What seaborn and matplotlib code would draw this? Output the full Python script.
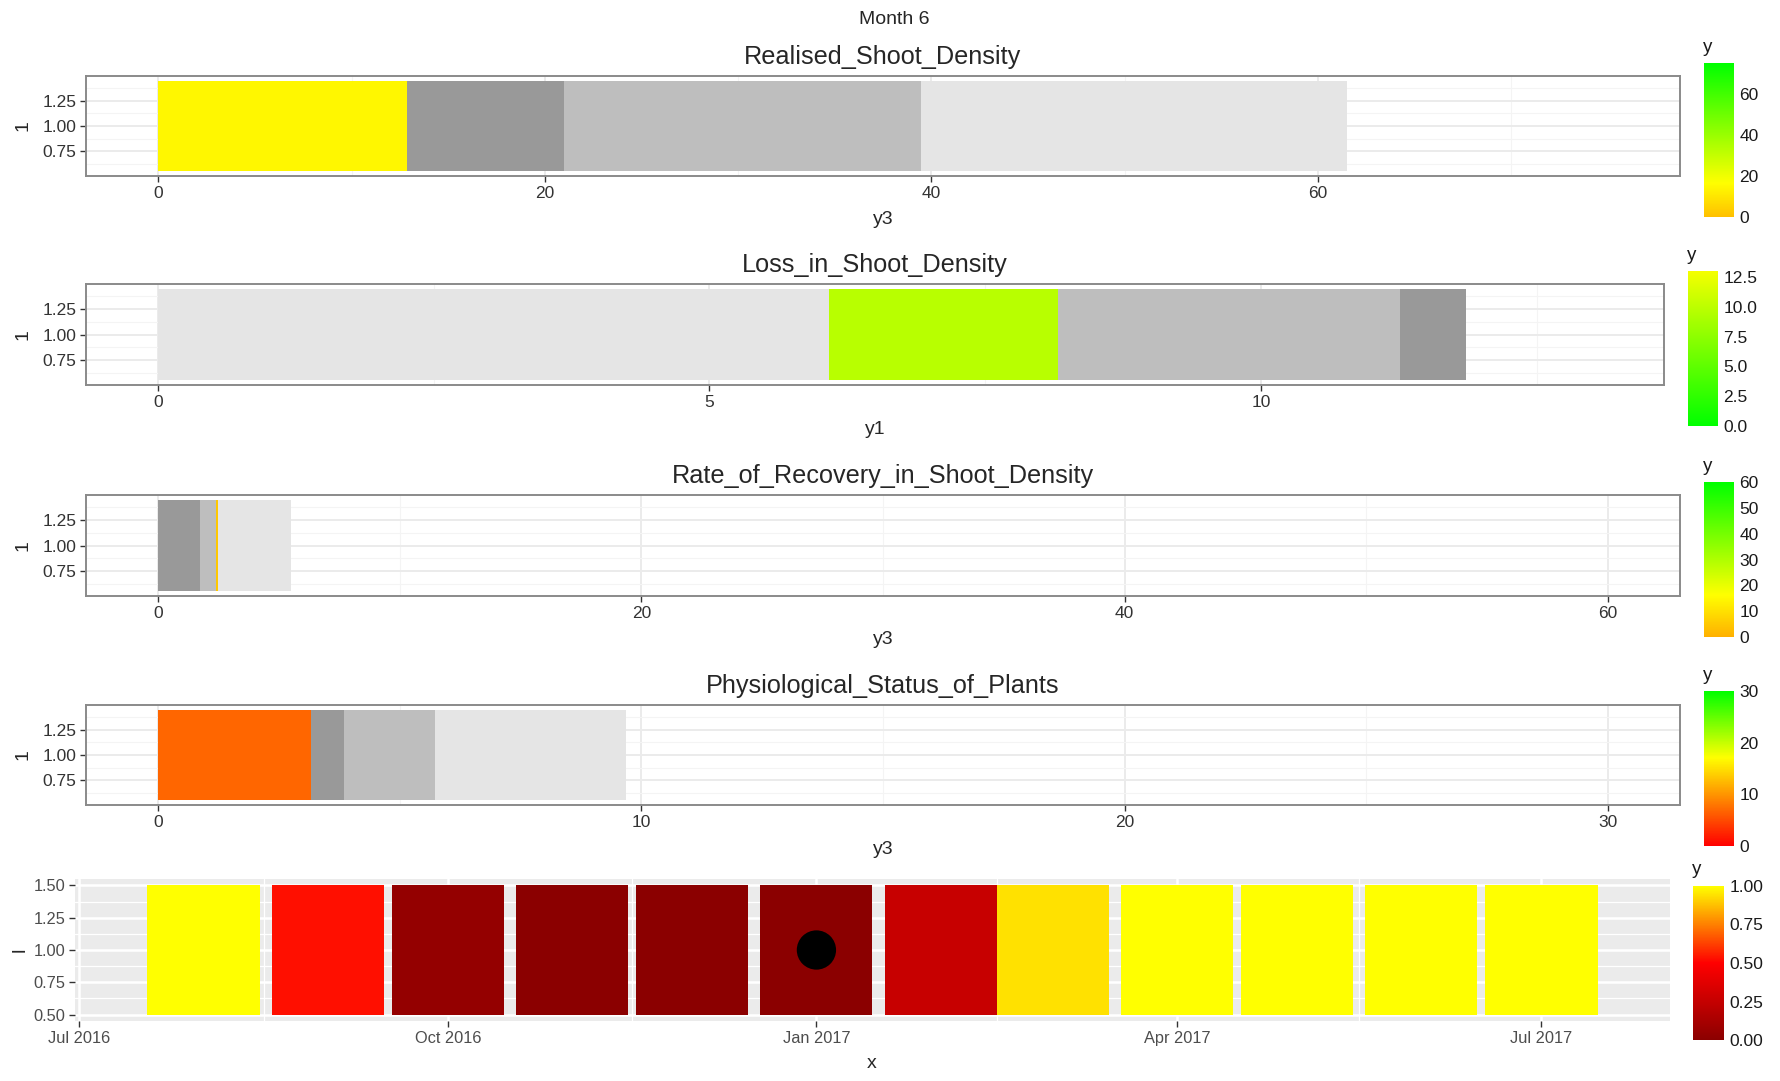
import numpy as np
import pandas as pd
import seaborn as sns
import matplotlib as mpl
import matplotlib.pyplot as plt
import matplotlib.dates as mdates
from matplotlib.colors import LinearSegmentedColormap, Normalize
from matplotlib.ticker import FixedLocator

sns.set_theme(style="white")
plt.rcParams['font.family'] = ['Liberation Sans', 'DejaVu Sans']

# ---- data ----
fig_title = "Month 6"
titles = ["Realised_Shoot_Density", "Loss_in_Shoot_Density",
          "Rate_of_Recovery_in_Shoot_Density", "Physiological_Status_of_Plants"]
xlabels = ["y3", "y1", "y3", "y3"]

# stacked segment lengths, in drawing order
realised_len = [12.85, 8.15, 18.47, 22.03]
realised_kind = ["value", "dark", "mid", "light"]
loss_len = [6.08, 2.08, 3.10, 0.60]
loss_kind = ["light", "value", "mid", "dark"]
recovery_len = [1.71, 0.69, 0.07, 3.02]
recovery_kind = ["dark", "mid", "value", "light"]
physio_len = [3.15, 0.70, 1.88, 3.94]
physio_kind = ["value", "dark", "mid", "light"]

# fill value of the coloured segment and scale maximum of each panel
fill_values = [14.4, 9.7, 5.0, 6.8]
scale_max = [75, 13, 60, 30]

x_ticks = [[0, 20, 40, 60], [0, 5, 10], [0, 20, 40, 60], [0, 10, 20, 30]]
cb_ticks = [[0, 20, 40, 60], [0, 2.5, 5, 7.5, 10, 12.5],
            [0, 10, 20, 30, 40, 50, 60], [0, 10, 20, 30]]
cb_labels = [["0", "20", "40", "60"], ["0.0", "2.5", "5.0", "7.5", "10.0", "12.5"],
             ["0", "10", "20", "30", "40", "50", "60"], ["0", "10", "20", "30"]]

# monthly status tiles
months = pd.date_range("2016-08-01", periods=12, freq="MS")
status = [1.0, 0.53, 0.04, 0.0, 0.0, 0.0, 0.26, 0.94, 1.0, 1.0, 1.0, 1.0]
current_month = pd.Timestamp("2017-01-01")
date_ticks = pd.to_datetime(["2016-07-01", "2016-10-01", "2017-01-01", "2017-04-01", "2017-07-01"])

grays = {"dark": "#999999", "mid": "#BEBEBE", "light": "#E5E5E5"}

cmaps = [
    LinearSegmentedColormap.from_list("c1", [(0, "#FFC000"), (0.22, "#FFFF00"), (1, "#00FF00")]),
    LinearSegmentedColormap.from_list("c2", [(0, "#00FF00"), (1, "#F5FF00")]),
    LinearSegmentedColormap.from_list("c3", [(0, "#FFB000"), (0.27, "#FFFF00"), (1, "#00FF00")]),
    LinearSegmentedColormap.from_list("c4", [(0, "#FF0000"), (0.57, "#FFFF00"), (1, "#00FF00")]),
]
cmap_status = LinearSegmentedColormap.from_list("c5", [(0, "#8B0000"), (0.5, "#FF0000"), (1, "#FFFF00")])

W, H = 1781, 1081
fig = plt.figure(figsize=(W / 100, H / 100), dpi=100)


def box(x0, y0, x1, y1):
    return fig.add_axes([x0 / W, 1 - y1 / H, (x1 - x0) / W, (y1 - y0) / H])


def add_colorbar(rect, cmap, vmax, ticks, labels):
    cax = box(*rect)
    cb = fig.colorbar(mpl.cm.ScalarMappable(norm=Normalize(0, vmax), cmap=cmap), cax=cax)
    cb.outline.set_visible(False)
    cb.set_ticks(ticks)
    cb.set_ticklabels(labels)
    cax.tick_params(which="major", direction="in", length=6, width=1.2, color="white",
                    left=True, right=True, labelleft=False, labelright=True,
                    labelsize=12.5, labelcolor="#1A1A1A", pad=4)
    fig.text((rect[0] - 1) / W, 1 - (rect[1] - 16) / H, "y", fontsize=13.5,
             ha="left", va="center", color="#1A1A1A")


panel_rects = [(86, 76, 1680, 176), (86, 284, 1664, 385),
               (86, 495, 1680, 596), (86, 705, 1680, 805)]
cb_rects = [(1704, 63, 1734, 217), (1688, 271, 1718, 426),
            (1704, 482, 1734, 637), (1704, 691, 1734, 846)]
lengths = [realised_len, loss_len, recovery_len, physio_len]
kinds = [realised_kind, loss_kind, recovery_kind, physio_kind]

fig.text(894 / W, 1 - 19 / H, fig_title, fontsize=14, ha="center", va="center")

for i in range(4):
    ax = box(*panel_rects[i])
    norm = Normalize(0, scale_max[i])
    starts = np.concatenate([[0], np.cumsum(lengths[i])[:-1]])
    for s, l, k in zip(starts, lengths[i], kinds[i]):
        c = cmaps[i](norm(fill_values[i])) if k == "value" else grays[k]
        ax.barh(1.0, l, left=s, height=0.9, color=c, linewidth=0, zorder=2)

    m = scale_max[i]
    ax.set_xlim(-0.05 * m, 1.05 * m)
    ax.set_ylim(0.505, 1.495)
    ax.set_xticks(x_ticks[i])
    ax.set_xticklabels([str(t) for t in x_ticks[i]])
    step = x_ticks[i][1] - x_ticks[i][0]
    minors = [t + step / 2 for t in x_ticks[i] if t + step / 2 < 1.05 * m]
    ax.xaxis.set_minor_locator(FixedLocator(minors))
    ax.set_yticks([0.75, 1.0, 1.25])
    ax.set_yticklabels(["0.75", "1.00", "1.25"])
    ax.yaxis.set_minor_locator(FixedLocator([0.625, 0.875, 1.125, 1.375]))

    ax.set_facecolor("white")
    ax.grid(which="major", color="#EBEBEB", linewidth=1.4, zorder=0)
    ax.grid(which="minor", color="#F4F4F4", linewidth=0.8, zorder=0)
    ax.set_axisbelow(True)
    for sp in ax.spines.values():
        sp.set_visible(True)
        sp.set_color("#8A8A8A")
        sp.set_linewidth(1.4)
    ax.tick_params(which="major", direction="out", length=4, width=1, color="#333333",
                   bottom=True, left=True, labelsize=12.5, labelcolor="#333333", pad=3)
    ax.tick_params(which="minor", length=0)

    x0, y0, x1, y1 = panel_rects[i]
    fig.text((x0 + x1) / 2 / W, 1 - (y0 - 19) / H, titles[i], fontsize=18.2,
             ha="center", va="center")
    fig.text((x0 + x1) / 2 / W, 1 - (y1 + 44) / H, xlabels[i], fontsize=14,
             ha="center", va="center")
    fig.text(23 / W, 1 - (y0 + y1) / 2 / H, "1", fontsize=14, rotation=90,
             ha="center", va="center")

    add_colorbar(cb_rects[i], cmaps[i], scale_max[i], cb_ticks[i], cb_labels[i])

# ---- monthly status tiles ----
ax5 = box(75, 879, 1670, 1021)
tile_colors = [cmap_status(v) for v in status]
ax5.bar(months, 1.0, bottom=0.5, width=28, color=tile_colors, linewidth=0, zorder=2)
dot = pd.DataFrame({"x": [current_month], "y": [1.0]})
sns.scatterplot(data=dot, x="x", y="y", ax=ax5, s=800, color="black",
                edgecolor="none", zorder=3, legend=False)

left = months[0] - pd.Timedelta(days=14)
right = months[-1] + pd.Timedelta(days=14)
span = right - left
ax5.set_xlim(left - 0.05 * span, right + 0.05 * span)
ax5.set_ylim(0.45, 1.55)
ax5.set_xticks(date_ticks)
ax5.set_xticklabels([d.strftime("%b %Y") for d in date_ticks])
mids = [date_ticks[j] + (date_ticks[j + 1] - date_ticks[j]) / 2 for j in range(len(date_ticks) - 1)]
ax5.xaxis.set_minor_locator(FixedLocator(mdates.date2num(mids)))
ax5.set_yticks([0.5, 0.75, 1.0, 1.25, 1.5])
ax5.set_yticklabels(["0.50", "0.75", "1.00", "1.25", "1.50"])
ax5.yaxis.set_minor_locator(FixedLocator([0.625, 0.875, 1.125, 1.375]))
ax5.set_facecolor("#EBEBEB")
ax5.grid(which="major", color="white", linewidth=1.8, zorder=0)
ax5.grid(which="minor", color="white", linewidth=0.9, zorder=0)
ax5.set_axisbelow(True)
for sp in ax5.spines.values():
    sp.set_visible(False)
ax5.tick_params(which="major", direction="out", length=4, width=1, color="#333333",
                bottom=True, left=True, labelsize=11.8, labelcolor="#4D4D4D", pad=3)
ax5.tick_params(which="minor", length=0)
ax5.set_xlabel("")
ax5.set_ylabel("")
fig.text(872 / W, 1 - 1064 / H, "x", fontsize=14, ha="center", va="center")
fig.text(20 / W, 1 - 950 / H, "l", fontsize=14, rotation=90, ha="center", va="center")

add_colorbar((1693, 886, 1724, 1040), cmap_status, 1.0,
             [0, 0.25, 0.5, 0.75, 1.0], ["0.00", "0.25", "0.50", "0.75", "1.00"])

fig.savefig("out.png", dpi=100)
